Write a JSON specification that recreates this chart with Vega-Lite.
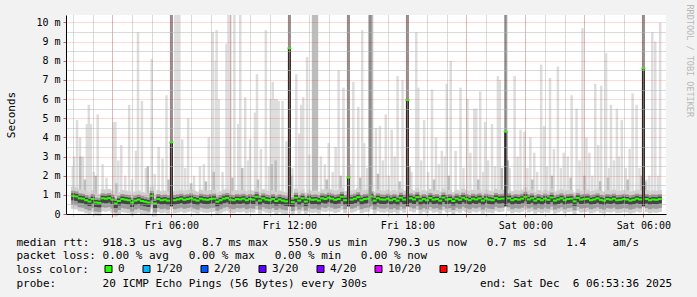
{
"$schema":"https://vega.github.io/schema/vega-lite/v6.json",
"width":600,"height":199,
"autosize":{"type":"none"},
"padding":{"left":66,"top":15,"right":31,"bottom":83},
"background":"#f2f2f2",
"config":{"view":{"stroke":null,"fill":"#ffffff"},"font":"DejaVu Sans Mono"},
"datasets":{
"med":[
{"t":"2025-12-05T01:00","med":0.95},{"t":"2025-12-05T01:10","med":0.92},{"t":"2025-12-05T01:20","med":0.82},{"t":"2025-12-05T01:30","med":0.80},{"t":"2025-12-05T01:40","med":0.72},{"t":"2025-12-05T01:50","med":0.65},
{"t":"2025-12-05T02:00","med":0.78},{"t":"2025-12-05T02:10","med":0.60},{"t":"2025-12-05T02:20","med":0.58},{"t":"2025-12-05T02:30","med":0.82},{"t":"2025-12-05T02:40","med":0.80},{"t":"2025-12-05T02:50","med":0.83},
{"t":"2025-12-05T03:00","med":0.75},{"t":"2025-12-05T03:10","med":0.55},{"t":"2025-12-05T03:20","med":0.68},{"t":"2025-12-05T03:30","med":0.78},{"t":"2025-12-05T03:40","med":0.75},{"t":"2025-12-05T03:50","med":0.72},
{"t":"2025-12-05T04:00","med":0.60},{"t":"2025-12-05T04:10","med":0.70},{"t":"2025-12-05T04:20","med":0.75},{"t":"2025-12-05T04:30","med":0.68},{"t":"2025-12-05T04:40","med":0.64},{"t":"2025-12-05T04:50","med":0.60},
{"t":"2025-12-05T05:00","med":0.95},{"t":"2025-12-05T05:10","med":0.55},{"t":"2025-12-05T05:20","med":0.78},{"t":"2025-12-05T05:30","med":0.72},{"t":"2025-12-05T05:40","med":0.75},{"t":"2025-12-05T05:50","med":0.70},
{"t":"2025-12-05T06:00","med":3.74},{"t":"2025-12-05T06:10","med":0.72},{"t":"2025-12-05T06:20","med":0.76},{"t":"2025-12-05T06:30","med":0.80},{"t":"2025-12-05T06:40","med":0.74},{"t":"2025-12-05T06:50","med":0.78},
{"t":"2025-12-05T07:00","med":0.82},{"t":"2025-12-05T07:10","med":0.75},{"t":"2025-12-05T07:20","med":0.70},{"t":"2025-12-05T07:30","med":0.80},{"t":"2025-12-05T07:40","med":0.76},{"t":"2025-12-05T07:50","med":0.74},
{"t":"2025-12-05T08:00","med":0.78},{"t":"2025-12-05T08:10","med":0.80},{"t":"2025-12-05T08:20","med":0.64},{"t":"2025-12-05T08:30","med":0.72},{"t":"2025-12-05T08:40","med":0.80},{"t":"2025-12-05T08:50","med":0.84},
{"t":"2025-12-05T09:00","med":0.75},{"t":"2025-12-05T09:10","med":0.72},{"t":"2025-12-05T09:20","med":0.78},{"t":"2025-12-05T09:30","med":0.76},{"t":"2025-12-05T09:40","med":0.80},{"t":"2025-12-05T09:50","med":0.72},
{"t":"2025-12-05T10:00","med":0.78},{"t":"2025-12-05T10:10","med":0.75},{"t":"2025-12-05T10:20","med":0.90},{"t":"2025-12-05T10:30","med":0.70},{"t":"2025-12-05T10:40","med":0.82},{"t":"2025-12-05T10:50","med":0.75},
{"t":"2025-12-05T11:00","med":0.72},{"t":"2025-12-05T11:10","med":0.78},{"t":"2025-12-05T11:20","med":0.68},{"t":"2025-12-05T11:30","med":0.76},{"t":"2025-12-05T11:40","med":0.70},{"t":"2025-12-05T11:50","med":0.66},
{"t":"2025-12-05T12:00","med":8.65},{"t":"2025-12-05T12:10","med":0.62},{"t":"2025-12-05T12:20","med":0.85},{"t":"2025-12-05T12:30","med":0.70},{"t":"2025-12-05T12:40","med":0.82},{"t":"2025-12-05T12:50","med":0.65},
{"t":"2025-12-05T13:00","med":0.80},{"t":"2025-12-05T13:10","med":0.74},{"t":"2025-12-05T13:20","med":0.76},{"t":"2025-12-05T13:30","med":0.70},{"t":"2025-12-05T13:40","med":0.82},{"t":"2025-12-05T13:50","med":0.78},
{"t":"2025-12-05T14:00","med":0.85},{"t":"2025-12-05T14:10","med":0.80},{"t":"2025-12-05T14:20","med":0.74},{"t":"2025-12-05T14:30","med":0.78},{"t":"2025-12-05T14:40","med":0.90},{"t":"2025-12-05T14:50","med":0.72},
{"t":"2025-12-05T15:00","med":1.90},{"t":"2025-12-05T15:10","med":0.75},{"t":"2025-12-05T15:20","med":0.80},{"t":"2025-12-05T15:30","med":0.88},{"t":"2025-12-05T15:40","med":0.72},{"t":"2025-12-05T15:50","med":0.78},
{"t":"2025-12-05T16:00","med":0.80},{"t":"2025-12-05T16:10","med":0.92},{"t":"2025-12-05T16:20","med":0.70},{"t":"2025-12-05T16:30","med":0.82},{"t":"2025-12-05T16:40","med":0.76},{"t":"2025-12-05T16:50","med":0.75},
{"t":"2025-12-05T17:00","med":0.80},{"t":"2025-12-05T17:10","med":0.72},{"t":"2025-12-05T17:20","med":0.78},{"t":"2025-12-05T17:30","med":0.70},{"t":"2025-12-05T17:40","med":0.85},{"t":"2025-12-05T17:50","med":0.75},
{"t":"2025-12-05T18:00","med":5.95},{"t":"2025-12-05T18:10","med":0.82},{"t":"2025-12-05T18:20","med":0.76},{"t":"2025-12-05T18:30","med":0.88},{"t":"2025-12-05T18:40","med":0.70},{"t":"2025-12-05T18:50","med":0.78},
{"t":"2025-12-05T19:00","med":0.72},{"t":"2025-12-05T19:10","med":0.84},{"t":"2025-12-05T19:20","med":0.75},{"t":"2025-12-05T19:30","med":0.78},{"t":"2025-12-05T19:40","med":0.70},{"t":"2025-12-05T19:50","med":0.86},
{"t":"2025-12-05T20:00","med":0.75},{"t":"2025-12-05T20:10","med":0.78},{"t":"2025-12-05T20:20","med":0.68},{"t":"2025-12-05T20:30","med":0.80},{"t":"2025-12-05T20:40","med":0.74},{"t":"2025-12-05T20:50","med":0.85},
{"t":"2025-12-05T21:00","med":0.78},{"t":"2025-12-05T21:10","med":0.72},{"t":"2025-12-05T21:20","med":0.80},{"t":"2025-12-05T21:30","med":0.76},{"t":"2025-12-05T21:40","med":0.82},{"t":"2025-12-05T21:50","med":0.70},
{"t":"2025-12-05T22:00","med":0.80},{"t":"2025-12-05T22:10","med":0.75},{"t":"2025-12-05T22:20","med":0.72},{"t":"2025-12-05T22:30","med":0.84},{"t":"2025-12-05T22:40","med":0.78},{"t":"2025-12-05T22:50","med":0.80},
{"t":"2025-12-05T23:00","med":4.30},{"t":"2025-12-05T23:10","med":0.82},{"t":"2025-12-05T23:20","med":0.72},{"t":"2025-12-05T23:30","med":0.78},{"t":"2025-12-05T23:40","med":0.75},{"t":"2025-12-05T23:50","med":0.80},
{"t":"2025-12-06T00:00","med":0.90},{"t":"2025-12-06T00:10","med":0.76},{"t":"2025-12-06T00:20","med":0.82},{"t":"2025-12-06T00:30","med":0.70},{"t":"2025-12-06T00:40","med":0.78},{"t":"2025-12-06T00:50","med":0.72},
{"t":"2025-12-06T01:00","med":0.80},{"t":"2025-12-06T01:10","med":0.74},{"t":"2025-12-06T01:20","med":0.86},{"t":"2025-12-06T01:30","med":0.70},{"t":"2025-12-06T01:40","med":0.76},{"t":"2025-12-06T01:50","med":0.82},
{"t":"2025-12-06T02:00","med":0.72},{"t":"2025-12-06T02:10","med":0.78},{"t":"2025-12-06T02:20","med":0.80},{"t":"2025-12-06T02:30","med":0.66},{"t":"2025-12-06T02:40","med":0.84},{"t":"2025-12-06T02:50","med":0.75},
{"t":"2025-12-06T03:00","med":0.78},{"t":"2025-12-06T03:10","med":0.80},{"t":"2025-12-06T03:20","med":0.72},{"t":"2025-12-06T03:30","med":0.76},{"t":"2025-12-06T03:40","med":0.82},{"t":"2025-12-06T03:50","med":0.74},
{"t":"2025-12-06T04:00","med":0.70},{"t":"2025-12-06T04:10","med":0.78},{"t":"2025-12-06T04:20","med":0.75},{"t":"2025-12-06T04:30","med":0.80},{"t":"2025-12-06T04:40","med":0.72},{"t":"2025-12-06T04:50","med":0.74},
{"t":"2025-12-06T05:00","med":0.78},{"t":"2025-12-06T05:10","med":0.76},{"t":"2025-12-06T05:20","med":0.70},{"t":"2025-12-06T05:30","med":0.74},{"t":"2025-12-06T05:40","med":0.80},{"t":"2025-12-06T05:50","med":0.76},
{"t":"2025-12-06T06:00","med":7.60},{"t":"2025-12-06T06:10","med":0.78},{"t":"2025-12-06T06:20","med":0.72},{"t":"2025-12-06T06:30","med":0.76},{"t":"2025-12-06T06:40","med":0.74},{"t":"2025-12-06T06:50","med":0.78}
],
"spk":[
{"t":"2025-12-05T00:59","top":2.5,"lvl":1},{"t":"2025-12-05T01:12","top":4.9,"lvl":1},{"t":"2025-12-05T01:21","top":4.0,"lvl":1},{"t":"2025-12-05T01:42","top":4.7,"lvl":1},{"t":"2025-12-05T01:48","top":5.7,"lvl":1},{"t":"2025-12-05T01:54","top":4.7,"lvl":1},
{"t":"2025-12-05T02:15","top":5.2,"lvl":1},{"t":"2025-12-05T03:03","top":4.8,"lvl":1},{"t":"2025-12-05T03:09","top":4.8,"lvl":1},{"t":"2025-12-05T03:27","top":3.6,"lvl":1},{"t":"2025-12-05T03:51","top":5.7,"lvl":1},{"t":"2025-12-05T04:12","top":3.3,"lvl":1},
{"t":"2025-12-05T04:18","top":9.5,"lvl":1},{"t":"2025-12-05T04:30","top":5.9,"lvl":1},{"t":"2025-12-05T05:00","top":8.1,"lvl":1},{"t":"2025-12-05T05:21","top":3.5,"lvl":1},{"t":"2025-12-05T05:45","top":6.2,"lvl":1},{"t":"2025-12-05T06:12","top":10.4,"lvl":1},
{"t":"2025-12-05T06:18","top":10.4,"lvl":1},{"t":"2025-12-05T06:24","top":10.4,"lvl":1},{"t":"2025-12-05T06:33","top":3.9,"lvl":1},{"t":"2025-12-05T06:51","top":5.0,"lvl":1},{"t":"2025-12-05T07:27","top":2.5,"lvl":1},{"t":"2025-12-05T07:54","top":4.0,"lvl":1},
{"t":"2025-12-05T08:06","top":9.5,"lvl":1},{"t":"2025-12-05T08:15","top":8.0,"lvl":1},{"t":"2025-12-05T08:18","top":9.6,"lvl":1},{"t":"2025-12-05T08:24","top":6.0,"lvl":1},{"t":"2025-12-05T08:48","top":8.9,"lvl":1},{"t":"2025-12-05T08:54","top":10.4,"lvl":1},
{"t":"2025-12-05T09:00","top":10.4,"lvl":1},{"t":"2025-12-05T09:12","top":10.4,"lvl":1},{"t":"2025-12-05T09:24","top":4.7,"lvl":1},{"t":"2025-12-05T09:30","top":10.4,"lvl":1},{"t":"2025-12-05T09:45","top":6.1,"lvl":1},{"t":"2025-12-05T10:00","top":3.9,"lvl":1},
{"t":"2025-12-05T10:15","top":5.3,"lvl":1},{"t":"2025-12-05T10:21","top":7.3,"lvl":1},{"t":"2025-12-05T10:48","top":9.6,"lvl":1},{"t":"2025-12-05T11:03","top":6.0,"lvl":1},{"t":"2025-12-05T11:09","top":6.9,"lvl":1},{"t":"2025-12-05T11:15","top":6.0,"lvl":1},
{"t":"2025-12-05T11:21","top":6.0,"lvl":1},{"t":"2025-12-05T11:27","top":5.9,"lvl":1},{"t":"2025-12-05T11:39","top":5.9,"lvl":1},{"t":"2025-12-05T12:21","top":7.3,"lvl":1},{"t":"2025-12-05T12:36","top":5.7,"lvl":1},{"t":"2025-12-05T12:42","top":6.1,"lvl":1},
{"t":"2025-12-05T12:54","top":8.2,"lvl":1},{"t":"2025-12-05T13:36","top":3.0,"lvl":1},{"t":"2025-12-05T14:00","top":3.7,"lvl":1},{"t":"2025-12-05T14:30","top":7.5,"lvl":1},{"t":"2025-12-05T14:45","top":6.6,"lvl":1},{"t":"2025-12-05T15:15","top":6.9,"lvl":1},
{"t":"2025-12-05T15:30","top":5.6,"lvl":1},{"t":"2025-12-05T15:42","top":9.6,"lvl":1},{"t":"2025-12-05T15:48","top":3.7,"lvl":1},{"t":"2025-12-05T16:24","top":4.5,"lvl":1},{"t":"2025-12-05T16:36","top":4.6,"lvl":1},{"t":"2025-12-05T16:54","top":5.2,"lvl":1},
{"t":"2025-12-05T17:12","top":4.4,"lvl":1},{"t":"2025-12-05T17:30","top":7.2,"lvl":1},{"t":"2025-12-05T17:45","top":7.0,"lvl":1},{"t":"2025-12-05T18:27","top":9.5,"lvl":1},{"t":"2025-12-05T18:33","top":6.6,"lvl":1},{"t":"2025-12-05T18:51","top":4.9,"lvl":1},
{"t":"2025-12-05T19:15","top":6.5,"lvl":1},{"t":"2025-12-05T19:45","top":3.3,"lvl":1},{"t":"2025-12-05T20:00","top":6.8,"lvl":1},{"t":"2025-12-05T20:12","top":8.0,"lvl":1},{"t":"2025-12-05T20:27","top":3.3,"lvl":1},{"t":"2025-12-05T20:42","top":6.6,"lvl":1},
{"t":"2025-12-05T21:03","top":6.0,"lvl":1},{"t":"2025-12-05T21:24","top":5.5,"lvl":1},{"t":"2025-12-05T21:30","top":5.5,"lvl":1},{"t":"2025-12-05T21:42","top":6.4,"lvl":1},{"t":"2025-12-05T21:57","top":4.8,"lvl":1},{"t":"2025-12-05T22:18","top":4.7,"lvl":1},
{"t":"2025-12-05T22:36","top":7.2,"lvl":1},{"t":"2025-12-05T22:42","top":7.0,"lvl":1},{"t":"2025-12-05T23:27","top":7.2,"lvl":1},{"t":"2025-12-05T23:45","top":4.4,"lvl":1},{"t":"2025-12-05T23:57","top":4.3,"lvl":1},{"t":"2025-12-06T00:15","top":4.0,"lvl":1},
{"t":"2025-12-06T00:48","top":7.8,"lvl":1},{"t":"2025-12-06T00:57","top":4.6,"lvl":1},{"t":"2025-12-06T01:15","top":7.1,"lvl":1},{"t":"2025-12-06T01:39","top":7.7,"lvl":1},{"t":"2025-12-06T01:57","top":3.2,"lvl":1},{"t":"2025-12-06T02:21","top":6.2,"lvl":1},
{"t":"2025-12-06T02:36","top":5.5,"lvl":1},{"t":"2025-12-06T02:54","top":9.7,"lvl":1},{"t":"2025-12-06T03:06","top":4.0,"lvl":1},{"t":"2025-12-06T03:33","top":6.8,"lvl":1},{"t":"2025-12-06T03:51","top":6.7,"lvl":1},{"t":"2025-12-06T04:06","top":8.4,"lvl":1},
{"t":"2025-12-06T04:21","top":5.7,"lvl":1},{"t":"2025-12-06T04:39","top":5.5,"lvl":1},{"t":"2025-12-06T04:54","top":4.9,"lvl":1},{"t":"2025-12-06T05:27","top":6.3,"lvl":1},{"t":"2025-12-06T05:39","top":5.7,"lvl":1},{"t":"2025-12-06T06:18","top":2.0,"lvl":1},
{"t":"2025-12-06T06:27","top":9.5,"lvl":1},{"t":"2025-12-06T06:36","top":9.0,"lvl":1},{"t":"2025-12-06T06:51","top":10.0,"lvl":1},
{"t":"2025-12-05T01:03","top":3.0,"lvl":1},{"t":"2025-12-05T01:30","top":3.0,"lvl":1},{"t":"2025-12-05T02:03","top":2.2,"lvl":1},{"t":"2025-12-05T02:30","top":2.6,"lvl":1},{"t":"2025-12-05T02:42","top":1.9,"lvl":1},{"t":"2025-12-05T03:18","top":2.8,"lvl":1},
{"t":"2025-12-05T03:39","top":2.0,"lvl":1},{"t":"2025-12-05T04:00","top":1.8,"lvl":1},{"t":"2025-12-05T04:42","top":2.4,"lvl":1},{"t":"2025-12-05T05:09","top":2.1,"lvl":1},{"t":"2025-12-05T05:33","top":2.9,"lvl":1},{"t":"2025-12-05T06:42","top":2.4,"lvl":1},
{"t":"2025-12-05T07:09","top":2.0,"lvl":1},{"t":"2025-12-05T07:39","top":2.6,"lvl":1},{"t":"2025-12-05T08:36","top":2.2,"lvl":1},{"t":"2025-12-05T09:54","top":2.8,"lvl":1},{"t":"2025-12-05T10:33","top":3.4,"lvl":1},{"t":"2025-12-05T10:57","top":2.5,"lvl":1},
{"t":"2025-12-05T11:51","top":3.8,"lvl":1},{"t":"2025-12-05T12:09","top":2.4,"lvl":1},{"t":"2025-12-05T12:30","top":4.2,"lvl":1},{"t":"2025-12-05T13:00","top":3.1,"lvl":1},{"t":"2025-12-05T13:48","top":2.6,"lvl":1},{"t":"2025-12-05T14:12","top":2.2,"lvl":1},
{"t":"2025-12-05T14:21","top":3.5,"lvl":1},{"t":"2025-12-05T15:06","top":2.6,"lvl":1},{"t":"2025-12-05T15:57","top":2.4,"lvl":1},{"t":"2025-12-05T16:45","top":2.8,"lvl":1},{"t":"2025-12-05T17:03","top":2.0,"lvl":1},{"t":"2025-12-05T17:21","top":3.0,"lvl":1},
{"t":"2025-12-05T18:12","top":2.2,"lvl":1},{"t":"2025-12-05T18:42","top":2.8,"lvl":1},{"t":"2025-12-05T19:03","top":2.2,"lvl":1},{"t":"2025-12-05T19:27","top":4.0,"lvl":1},{"t":"2025-12-05T19:36","top":2.6,"lvl":1},{"t":"2025-12-05T19:54","top":3.0,"lvl":1},
{"t":"2025-12-05T20:51","top":2.4,"lvl":1},{"t":"2025-12-05T21:12","top":3.2,"lvl":1},{"t":"2025-12-05T21:51","top":2.2,"lvl":1},{"t":"2025-12-05T22:06","top":2.8,"lvl":1},{"t":"2025-12-05T22:27","top":2.5,"lvl":1},{"t":"2025-12-05T23:12","top":2.4,"lvl":1},
{"t":"2025-12-05T23:36","top":3.0,"lvl":1},{"t":"2025-12-06T00:06","top":2.4,"lvl":1},{"t":"2025-12-06T00:27","top":3.2,"lvl":1},{"t":"2025-12-06T00:36","top":2.2,"lvl":1},{"t":"2025-12-06T01:06","top":2.5,"lvl":1},{"t":"2025-12-06T01:27","top":3.4,"lvl":1},
{"t":"2025-12-06T01:48","top":2.4,"lvl":1},{"t":"2025-12-06T02:09","top":3.0,"lvl":1},{"t":"2025-12-06T02:45","top":2.8,"lvl":1},{"t":"2025-12-06T03:15","top":3.2,"lvl":1},{"t":"2025-12-06T03:24","top":2.0,"lvl":1},{"t":"2025-12-06T03:42","top":3.6,"lvl":1},
{"t":"2025-12-06T04:15","top":2.4,"lvl":1},{"t":"2025-12-06T04:30","top":2.8,"lvl":1},{"t":"2025-12-06T04:45","top":3.0,"lvl":1},{"t":"2025-12-06T05:06","top":2.4,"lvl":1},{"t":"2025-12-06T05:18","top":3.4,"lvl":1},{"t":"2025-12-06T05:48","top":2.4,"lvl":1},
{"t":"2025-12-06T06:09","top":1.8,"lvl":1},{"t":"2025-12-06T06:45","top":2.0,"lvl":1},
{"t":"2025-12-05T01:22","top":3.0,"lvl":2},{"t":"2025-12-05T01:36","top":1.8,"lvl":2},{"t":"2025-12-05T02:09","top":2.0,"lvl":2},{"t":"2025-12-05T03:12","top":1.6,"lvl":2},{"t":"2025-12-05T04:48","top":2.5,"lvl":2},{"t":"2025-12-05T05:51","top":1.8,"lvl":2},
{"t":"2025-12-05T07:00","top":1.6,"lvl":2},{"t":"2025-12-05T07:45","top":1.7,"lvl":2},{"t":"2025-12-05T08:09","top":2.2,"lvl":2},{"t":"2025-12-05T09:06","top":1.9,"lvl":2},{"t":"2025-12-05T09:36","top":2.4,"lvl":2},{"t":"2025-12-05T10:24","top":1.8,"lvl":2},
{"t":"2025-12-05T11:06","top":2.6,"lvl":2},{"t":"2025-12-05T11:18","top":2.8,"lvl":2},{"t":"2025-12-05T12:06","top":2.0,"lvl":2},{"t":"2025-12-05T13:12","top":10.4,"lvl":2},{"t":"2025-12-05T13:18","top":10.4,"lvl":2},{"t":"2025-12-05T13:24","top":10.4,"lvl":2},
{"t":"2025-12-05T13:54","top":1.8,"lvl":2},{"t":"2025-12-05T14:36","top":2.0,"lvl":2},{"t":"2025-12-05T15:36","top":1.9,"lvl":2},{"t":"2025-12-05T16:12","top":10.4,"lvl":2},{"t":"2025-12-05T16:30","top":2.1,"lvl":2},{"t":"2025-12-05T17:36","top":1.7,"lvl":2},
{"t":"2025-12-05T18:06","top":2.5,"lvl":2},{"t":"2025-12-05T19:21","top":1.8,"lvl":2},{"t":"2025-12-05T20:06","top":2.0,"lvl":2},{"t":"2025-12-05T21:36","top":1.8,"lvl":2},{"t":"2025-12-05T22:48","top":2.4,"lvl":2},{"t":"2025-12-05T23:06","top":2.8,"lvl":2},
{"t":"2025-12-06T00:21","top":1.8,"lvl":2},{"t":"2025-12-06T01:21","top":2.0,"lvl":2},{"t":"2025-12-06T02:18","top":1.9,"lvl":2},{"t":"2025-12-06T03:00","top":2.0,"lvl":2},{"t":"2025-12-06T03:48","top":1.7,"lvl":2},{"t":"2025-12-06T04:12","top":1.9,"lvl":2},
{"t":"2025-12-06T05:12","top":1.8,"lvl":2},{"t":"2025-12-06T05:54","top":2.0,"lvl":2},{"t":"2025-12-06T06:06","top":1.7,"lvl":2},
{"t":"2025-12-05T06:00","top":10.4,"lvl":3},{"t":"2025-12-05T12:00","top":10.4,"lvl":3},{"t":"2025-12-05T15:00","top":10.4,"lvl":3},{"t":"2025-12-05T16:06","top":10.4,"lvl":3},{"t":"2025-12-05T18:00","top":10.4,"lvl":3},{"t":"2025-12-05T23:00","top":10.4,"lvl":3},{"t":"2025-12-06T06:00","top":10.4,"lvl":3},
{"t":"2025-12-05T06:00","top":3.74,"lvl":4},{"t":"2025-12-05T12:00","top":8.65,"lvl":4},{"t":"2025-12-05T15:00","top":1.9,"lvl":4},{"t":"2025-12-05T18:00","top":5.95,"lvl":4},{"t":"2025-12-05T23:00","top":4.3,"lvl":4},{"t":"2025-12-06T06:00","top":7.6,"lvl":4}
]},
"layer":[
{"data":{"name":"spk"},"transform":[{"filter":"datum.lvl <= 2"}],
 "mark":{"type":"bar","width":2.5,"clip":true},
 "encoding":{
  "x":{"field":"t","type":"temporal","scale":{"domain":[{"year":2025,"month":12,"date":5,"hours":0,"minutes":53,"seconds":36},{"year":2025,"month":12,"date":6,"hours":6,"minutes":53,"seconds":36}],"nice":false},
   "axis":{"orient":"bottom","values":[
{"year":2025,"month":12,"date":5,"hours":1},{"year":2025,"month":12,"date":5,"hours":2},{"year":2025,"month":12,"date":5,"hours":3},{"year":2025,"month":12,"date":5,"hours":4},{"year":2025,"month":12,"date":5,"hours":5},{"year":2025,"month":12,"date":5,"hours":6},
{"year":2025,"month":12,"date":5,"hours":7},{"year":2025,"month":12,"date":5,"hours":8},{"year":2025,"month":12,"date":5,"hours":9},{"year":2025,"month":12,"date":5,"hours":10},{"year":2025,"month":12,"date":5,"hours":11},{"year":2025,"month":12,"date":5,"hours":12},
{"year":2025,"month":12,"date":5,"hours":13},{"year":2025,"month":12,"date":5,"hours":14},{"year":2025,"month":12,"date":5,"hours":15},{"year":2025,"month":12,"date":5,"hours":16},{"year":2025,"month":12,"date":5,"hours":17},{"year":2025,"month":12,"date":5,"hours":18},
{"year":2025,"month":12,"date":5,"hours":19},{"year":2025,"month":12,"date":5,"hours":20},{"year":2025,"month":12,"date":5,"hours":21},{"year":2025,"month":12,"date":5,"hours":22},{"year":2025,"month":12,"date":5,"hours":23},{"year":2025,"month":12,"date":6,"hours":0},
{"year":2025,"month":12,"date":6,"hours":1},{"year":2025,"month":12,"date":6,"hours":2},{"year":2025,"month":12,"date":6,"hours":3},{"year":2025,"month":12,"date":6,"hours":4},{"year":2025,"month":12,"date":6,"hours":5},{"year":2025,"month":12,"date":6,"hours":6}],
    "grid":true,"gridColor":"#b4b4b4","gridDash":[1,1],"labels":false,"ticks":true,"tickColor":"#b4b4b4","tickSize":2,"domain":false,"title":null,"zindex":1}},
  "y":{"field":"top","type":"quantitative","scale":{"domain":[0,10.39],"nice":false},
   "axis":{"orient":"left","values":[0.5,1.5,2.5,3.5,4.5,5.5,6.5,7.5,8.5,9.5],"grid":true,"gridColor":"#b4b4b4","gridDash":[1,1],"labels":false,"ticks":false,"domain":false,"title":null,"zindex":1}},
  "y2":{"datum":0.5},
  "fill":{"field":"lvl","type":"ordinal","scale":{"domain":[1,2,3,4],"range":["#dddddd","#bdbdbd","#8c8c8c","#2a2a2a"]},"legend":null}
 }},
{"data":{"name":"med"},"transform":[{"filter":"datum.med < 1.5"}],
 "mark":{"type":"tick","orient":"horizontal","size":4,"thickness":22,"yOffset":2,"color":"#d0d0d0","opacity":1},
 "encoding":{
  "x":{"field":"t","type":"temporal",
   "axis":{"orient":"bottom","values":[
{"year":2025,"month":12,"date":5,"hours":3},{"year":2025,"month":12,"date":5,"hours":6},{"year":2025,"month":12,"date":5,"hours":9},{"year":2025,"month":12,"date":5,"hours":12},{"year":2025,"month":12,"date":5,"hours":15},
{"year":2025,"month":12,"date":5,"hours":18},{"year":2025,"month":12,"date":5,"hours":21},{"year":2025,"month":12,"date":6,"hours":0},{"year":2025,"month":12,"date":6,"hours":3},{"year":2025,"month":12,"date":6,"hours":6}],
    "grid":true,"gridColor":"#ff0000","gridOpacity":0.3,"gridDash":[1,1],"ticks":true,"tickColor":"#e05050","tickSize":3,"domain":true,"domainColor":"#000000","labelExpr":"hours(datum.value) % 6 == 0 ? timeFormat(datum.value, '%a %H:%M') : ''","labelFont":"DejaVu Sans Mono","labelFontSize":10,"labelColor":"#000000","labelPadding":3,"labelOverlap":false,"labelFlush":false,"labelBound":false,
    "title":"median rtt:\u00a0\u00a0918.3 us avg\u00a0\u00a0\u00a08.7 ms max\u00a0\u00a0\u00a0550.9 us min\u00a0\u00a0\u00a0790.3 us now\u00a0\u00a0\u00a00.7 ms sd\u00a0\u00a0\u00a01.4\u00a0\u00a0\u00a0\u00a0am/s",
    "titleFont":"DejaVu Sans Mono","titleFontSize":11,"titleFontWeight":"normal","titleColor":"#000000","titleX":-50,"titleY":31,"titleAlign":"left","titleBaseline":"alphabetic","zindex":1}},
  "y":{"field":"med","type":"quantitative",
   "axis":{"orient":"left","values":[0,1,2,3,4,5,6,7,8,9,10],"grid":true,"gridColor":"#ff0000","gridOpacity":0.3,"gridDash":[1,1],"ticks":true,"tickColor":"#e05050","tickSize":3,"domain":true,"domainColor":"#000000","labelExpr":"datum.value == 0 ? '0\u00a0\u00a0' : datum.value + ' m'","labelFont":"DejaVu Sans Mono","labelFontSize":10,"labelColor":"#000000","labelPadding":3,"labelOverlap":false,"labelFlush":false,"labelBound":false,
    "title":"Seconds","titleFont":"DejaVu Sans Mono","titleFontSize":11,"titleFontWeight":"normal","titleColor":"#000000","titleX":-55,"titleY":99.5,"titleAlign":"center","titleBaseline":"middle","titleAngle":-90,"zindex":1}}
 }},
{"data":{"name":"med"},"transform":[{"filter":"datum.med < 1.5"}],
 "mark":{"type":"tick","orient":"horizontal","size":4,"thickness":14,"yOffset":2,"color":"#9c9c9c","opacity":1},
 "encoding":{
  "x":{"field":"t","type":"temporal",
   "axis":{"orient":"bottom","labels":false,"ticks":false,"domain":false,"grid":false,
    "title":"packet loss: 0.00 % avg\u00a0\u00a0\u00a00.00 % max\u00a0\u00a0\u00a00.00 % min\u00a0\u00a0\u00a00.00 % now",
    "titleFont":"DejaVu Sans Mono","titleFontSize":11,"titleFontWeight":"normal","titleColor":"#000000","titleX":-50,"titleY":44.4,"titleAlign":"left","titleBaseline":"alphabetic"}},
  "y":{"field":"med","type":"quantitative",
   "axis":{"orient":"right","title":"RRDTOOL / TOBI OETIKER","labels":false,"ticks":false,"domain":false,"grid":false,"titleColor":"#b8b8b8","titleFont":"DejaVu Sans Mono","titleFontSize":8.5,"titleFontWeight":"normal","titleAngle":90,"titleX":23,"titleY":-11,"titleAlign":"left","titleBaseline":"middle"}}
 }},
{"data":{"name":"med"},"transform":[{"filter":"datum.med < 1.5"}],
 "mark":{"type":"tick","orient":"horizontal","size":4,"thickness":7,"yOffset":1,"color":"#454545","opacity":1},
 "encoding":{
  "x":{"field":"t","type":"temporal",
   "axis":{"orient":"bottom","labels":false,"ticks":false,"domain":false,"grid":false,
    "title":"probe:\u00a0\u00a0\u00a0\u00a0\u00a0\u00a0\u00a020 ICMP Echo Pings (56 Bytes) every 300s\u00a0\u00a0\u00a0\u00a0\u00a0\u00a0\u00a0\u00a0\u00a0\u00a0\u00a0\u00a0\u00a0\u00a0\u00a0\u00a0\u00a0end: Sat Dec\u00a0\u00a06 06:53:36 2025",
    "titleFont":"DejaVu Sans Mono","titleFontSize":11,"titleFontWeight":"normal","titleColor":"#000000","titleX":-50,"titleY":72.2,"titleAlign":"left","titleBaseline":"alphabetic"}},
  "y":{"field":"med","type":"quantitative","axis":null}
 }},
{"data":{"name":"spk"},"transform":[{"filter":"datum.lvl >= 3"}],
 "mark":{"type":"bar","width":3,"clip":true},
 "encoding":{
  "x":{"field":"t","type":"temporal","axis":null},
  "y":{"field":"top","type":"quantitative","axis":null},
  "y2":{"datum":0.4},
  "fill":{"field":"lvl","type":"ordinal","legend":null}
 }},
{"data":{"name":"med"},
 "mark":{"type":"tick","orient":"horizontal","size":4,"thickness":2,"opacity":1},
 "encoding":{
  "x":{"field":"t","type":"temporal","axis":null},
  "y":{"field":"med","type":"quantitative","axis":null},
  "color":{"datum":"0","type":"nominal","scale":{"domain":["0","1/20","2/20","3/20","4/20","10/20","19/20"],"range":["#26ff00","#00b8ff","#0059ff","#5e00ff","#7e00ff","#dd00ff","#ff0000"]},
   "legend":{"orient":"none","legendX":-50,"legendY":248.5,"direction":"horizontal","title":"loss color:","titleOrient":"left","titleFont":"DejaVu Sans Mono","titleFontSize":11,"titleFontWeight":"normal","titleColor":"#000000","titlePadding":14,"labelFont":"DejaVu Sans Mono","labelFontSize":11,"labelColor":"#000000","labelOffset":4,"columnPadding":16,"symbolType":"square","symbolSize":49,"symbolStrokeColor":"#000000","symbolStrokeWidth":1,"symbolOpacity":1,"padding":0}}
 }}
],
"resolve":{"axis":{"x":"independent","y":"independent"}}
}
